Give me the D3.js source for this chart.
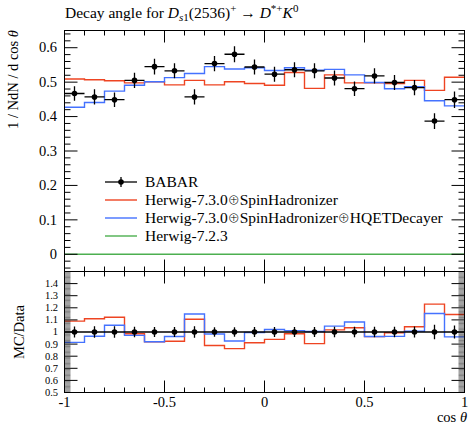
<!DOCTYPE html>
<html>
<head>
<meta charset="utf-8">
<script src="https://cdn.jsdelivr.net/npm/d3@7"></script>
<style>
  html, body { margin: 0; padding: 0; background: #fff; }
  svg { display: block; font-family: "Liberation Serif", "Times New Roman", serif; }
  .oplus { font-family: "Noto Sans CJK JP", "DejaVu Sans", sans-serif; font-weight: 300; font-size: 12px; }
</style>
</head>
<body>
<svg id="chart" width="469" height="427"></svg>
<script>
// Bin edges in cos(theta)
const binEdges = [-1.0, -0.9, -0.8, -0.7, -0.6, -0.5, -0.4, -0.3, -0.2, -0.1, 0.0,
                  0.1, 0.2, 0.3, 0.4, 0.5, 0.6, 0.7, 0.8, 0.9, 1.0];

// BABAR measurement and its uncertainty
const babar    = [0.467, 0.457, 0.449, 0.505, 0.545, 0.533, 0.457, 0.554, 0.581, 0.544,
                  0.523, 0.536, 0.533, 0.512, 0.481, 0.518, 0.499, 0.484, 0.387, 0.449];
const babarErr = [0.021, 0.022, 0.021, 0.022, 0.023, 0.022, 0.022, 0.022, 0.023, 0.022,
                  0.022, 0.022, 0.022, 0.022, 0.021, 0.022, 0.022, 0.022, 0.023, 0.024];

// Generator predictions
const spinHad  = [0.509, 0.507, 0.504, 0.498, 0.501, 0.492, 0.505, 0.492, 0.501, 0.496,
                  0.491, 0.528, 0.482, 0.521, 0.498, 0.498, 0.496, 0.505, 0.476, 0.514];
const spinHQET = [0.427, 0.441, 0.474, 0.491, 0.501, 0.513, 0.525, 0.545, 0.538, 0.542,
                  0.534, 0.542, 0.535, 0.537, 0.521, 0.499, 0.481, 0.487, 0.446, 0.431];
const herwig723 = [0, 0, 0, 0, 0, 0, 0, 0, 0, 0, 0, 0, 0, 0, 0, 0, 0, 0, 0, 0];

// legend names, split at the \u2295 symbol so it can be set in its own font
const seriesNames = [["Herwig-7.3.0", "SpinHadronizer"],
                     ["Herwig-7.3.0", "SpinHadronizer", "HQETDecayer"],
                     ["Herwig-7.2.3"]];
const seriesColors = ["#ee4422", "#4472ff", "#4caf50"];

const mainTicks  = [0, 0.1, 0.2, 0.3, 0.4, 0.5, 0.6];
const ratioTicks = [0.5, 0.6, 0.7, 0.8, 0.9, 1.0, 1.1, 1.2, 1.3, 1.4];
const xTicks     = [-1, -0.5, 0, 0.5, 1];
const xTickLabels = ["-1", "-0.5", "0", "0.5", "1"];

const svg = d3.select("#chart");
const L = 64.5, R = 464.5;
const mainTop = 30.5, mainBot = 271.5, ratioBot = 392.5;

const x = d3.scaleLinear().domain([-1, 1]).range([L, R]);
const y = d3.scaleLinear().domain([-0.05, 0.65]).range([mainBot, mainTop]);
const yr = d3.scaleLinear().domain([0.5, 1.5]).range([ratioBot, mainBot]);

const models = [spinHad, spinHQET, herwig723];
const centers = babar.map((_, i) => (binEdges[i] + binEdges[i + 1]) / 2);

// clip regions
const defs = svg.append("defs");
defs.append("clipPath").attr("id", "clipMain").append("rect")
  .attr("x", L).attr("y", mainTop).attr("width", R - L).attr("height", mainBot - mainTop);
defs.append("clipPath").attr("id", "clipRatio").append("rect")
  .attr("x", L).attr("y", mainBot).attr("width", R - L).attr("height", ratioBot - mainBot);

function stepPoints(vals) {
  const pts = vals.map((v, i) => [binEdges[i], v]);
  pts.push([binEdges[binEdges.length - 1], vals[vals.length - 1]]);
  return pts;
}

// ---------- main panel ----------
const gMain = svg.append("g").attr("clip-path", "url(#clipMain)");
const lineMain = d3.line().x(d => x(d[0])).y(d => y(d[1])).curve(d3.curveStepAfter);
models.forEach((vals, k) => {
  gMain.append("path").datum(stepPoints(vals))
    .attr("d", lineMain).attr("fill", "none")
    .attr("stroke", seriesColors[k]).attr("stroke-width", 1.4);
});

// data points
const gData = gMain.append("g");
babar.forEach((v, i) => {
  gData.append("line").attr("x1", x(binEdges[i])).attr("x2", x(binEdges[i + 1]))
    .attr("y1", y(v)).attr("y2", y(v)).attr("stroke", "#000").attr("stroke-width", 1.3);
  gData.append("line").attr("x1", x(centers[i])).attr("x2", x(centers[i]))
    .attr("y1", y(v - babarErr[i])).attr("y2", y(v + babarErr[i]))
    .attr("stroke", "#000").attr("stroke-width", 1.3);
  gData.append("circle").attr("cx", x(centers[i])).attr("cy", y(v)).attr("r", 2.8).attr("fill", "#000");
});

// ---------- ratio panel ----------
const gRatio = svg.append("g").attr("clip-path", "url(#clipRatio)");
const lineRatio = d3.line().x(d => x(d[0])).y(d => yr(d[1])).curve(d3.curveStepAfter);
models.forEach((vals, k) => {
  const ratio = vals.map((v, i) => v / babar[i]);
  gRatio.append("path").datum(stepPoints(ratio))
    .attr("d", lineRatio).attr("fill", "none")
    .attr("stroke", seriesColors[k]).attr("stroke-width", 1.4);
});
gRatio.append("line").attr("x1", L).attr("x2", R).attr("y1", yr(1)).attr("y2", yr(1))
  .attr("stroke", "#000").attr("stroke-width", 1.3);
babar.forEach((v, i) => {
  const e = babarErr[i] / v;
  gRatio.append("line").attr("x1", x(centers[i])).attr("x2", x(centers[i]))
    .attr("y1", yr(1 - e)).attr("y2", yr(1 + e)).attr("stroke", "#000").attr("stroke-width", 1.3);
  gRatio.append("circle").attr("cx", x(centers[i])).attr("cy", yr(1)).attr("r", 2.8).attr("fill", "#000");
});

// ---------- frames and ticks ----------
const gAx = svg.append("g").attr("stroke", "#000").attr("fill", "none");
function frame(top, bot) {
  gAx.append("rect").attr("x", L).attr("y", top).attr("width", R - L).attr("height", bot - top)
    .attr("stroke-width", 1);
}
frame(mainTop, mainBot);
frame(mainBot, ratioBot);

function tick(x1, y1, x2, y2, w) {
  gAx.append("line").attr("x1", x1).attr("y1", y1).attr("x2", x2).attr("y2", y2)
    .attr("stroke-width", w || 1);
}

// x ticks on every horizontal edge
const xMinor = d3.range(-9, 10).map(k => k / 10).filter(v => Math.abs(v * 2 - Math.round(v * 2)) > 1e-6);
[[mainTop, 1], [mainBot, -1], [mainBot, 1], [ratioBot, -1]].forEach(([yy, dir]) => {
  xTicks.forEach(v => tick(x(v), yy, x(v), yy + dir * 12));
  xMinor.forEach(v => tick(x(v), yy, x(v), yy + dir * 5));
});

// main y ticks (left and right)
const yMinorMain = d3.range(-2, 33).map(k => k * 0.02)
  .filter(v => Math.abs(v * 10 - Math.round(v * 10)) > 1e-6);
[[L, 1], [R, -1]].forEach(([xx, dir]) => {
  mainTicks.forEach(v => tick(xx, y(v), xx + dir * 13, y(v)));
  yMinorMain.forEach(v => tick(xx, y(v), xx + dir * 6, y(v)));
});

// ratio y ticks (left and right)
const yMinorRatio = d3.range(51, 150).map(k => k / 100)
  .filter(v => Math.abs(v * 10 - Math.round(v * 10)) > 1e-6);
[[L, 1], [R, -1]].forEach(([xx, dir]) => {
  ratioTicks.forEach(v => tick(xx, yr(v), xx + dir * 13, yr(v)));
  yMinorRatio.forEach(v => tick(xx, yr(v), xx + dir * 6, yr(v), 0.5));
});

// ---------- labels ----------
const gTxt = svg.append("g").attr("fill", "#000").style("font-size", "14.5px");
mainTicks.forEach(v => {
  gTxt.append("text").attr("x", 57).attr("y", y(v)).attr("dy", "0.33em")
    .attr("text-anchor", "end").text(v === 0 ? "0" : v.toFixed(1));
});
ratioTicks.forEach(v => {
  gTxt.append("text").attr("x", 58).attr("y", yr(v)).attr("dy", "0.33em")
    .attr("text-anchor", "end").style("font-size", "10.5px")
    .text(v === 1 ? "1" : v.toFixed(1));
});
xTicks.forEach((v, i) => {
  gTxt.append("text").attr("x", x(v)).attr("y", 407).attr("text-anchor", "middle").text(xTickLabels[i]);
});

// x axis title
const xt = gTxt.append("text").attr("x", 467).attr("y", 422).attr("text-anchor", "end");
xt.append("tspan").text("cos ");
xt.append("tspan").attr("font-style", "italic").text("\u03b8");

// y axis titles
const yt = gTxt.append("text").attr("transform", "translate(18,30) rotate(-90)").attr("text-anchor", "end");
yt.append("tspan").text("1 / NdN / d cos ");
yt.append("tspan").attr("font-style", "italic").text("\u03b8");

gTxt.append("text").attr("transform", `translate(24,${yr(1)}) rotate(-90)`)
  .attr("text-anchor", "middle").text("MC/Data");

// title
const tt = gTxt.append("text").attr("x", 65).attr("y", 18).style("font-size", "15.5px");
tt.append("tspan").text("Decay angle for ");
tt.append("tspan").attr("font-style", "italic").text("D");
tt.append("tspan").attr("font-size", "11px").attr("font-style", "italic").attr("dy", 3).text("s");
tt.append("tspan").attr("font-size", "11px").text("1");
tt.append("tspan").attr("dy", -3).text("(2536)");
tt.append("tspan").attr("font-size", "11px").attr("dy", -6).text("+");
tt.append("tspan").attr("dy", 6).text(" \u2192 ");
tt.append("tspan").attr("font-style", "italic").text("D");
tt.append("tspan").attr("font-size", "11px").attr("dy", -6).text("*+");
tt.append("tspan").attr("dy", 6).attr("font-style", "italic").text("K");
tt.append("tspan").attr("font-size", "11px").attr("dy", -6).text("0");

// ---------- legend ----------
const legY = [182, 200, 218, 236];
const legX1 = 105, legX2 = 137, legTxt = 145;
const gLeg = svg.append("g");
gLeg.append("line").attr("x1", legX1).attr("x2", legX2).attr("y1", legY[0]).attr("y2", legY[0])
  .attr("stroke", "#000").attr("stroke-width", 1.3);
gLeg.append("line").attr("x1", (legX1 + legX2) / 2).attr("x2", (legX1 + legX2) / 2)
  .attr("y1", legY[0] - 5).attr("y2", legY[0] + 5).attr("stroke", "#000").attr("stroke-width", 1.3);
gLeg.append("circle").attr("cx", (legX1 + legX2) / 2).attr("cy", legY[0]).attr("r", 2.8).attr("fill", "#000");
gLeg.append("text").attr("x", legTxt).attr("y", legY[0]).attr("dy", "0.35em")
  .style("font-size", "15.5px").text("BABAR");
seriesNames.forEach((parts, k) => {
  const yy = legY[k + 1];
  gLeg.append("line").attr("x1", legX1).attr("x2", legX2).attr("y1", yy).attr("y2", yy)
    .attr("stroke", seriesColors[k]).attr("stroke-width", 1.4);
  const t = gLeg.append("text").attr("x", legTxt).attr("y", yy).attr("dy", "0.35em")
    .style("font-size", "15.5px");
  parts.forEach((p, j) => {
    if (j > 0) t.append("tspan").attr("class", "oplus").text("\u2295");
    t.append("tspan").text(p);
  });
});
</script>
</body>
</html>
